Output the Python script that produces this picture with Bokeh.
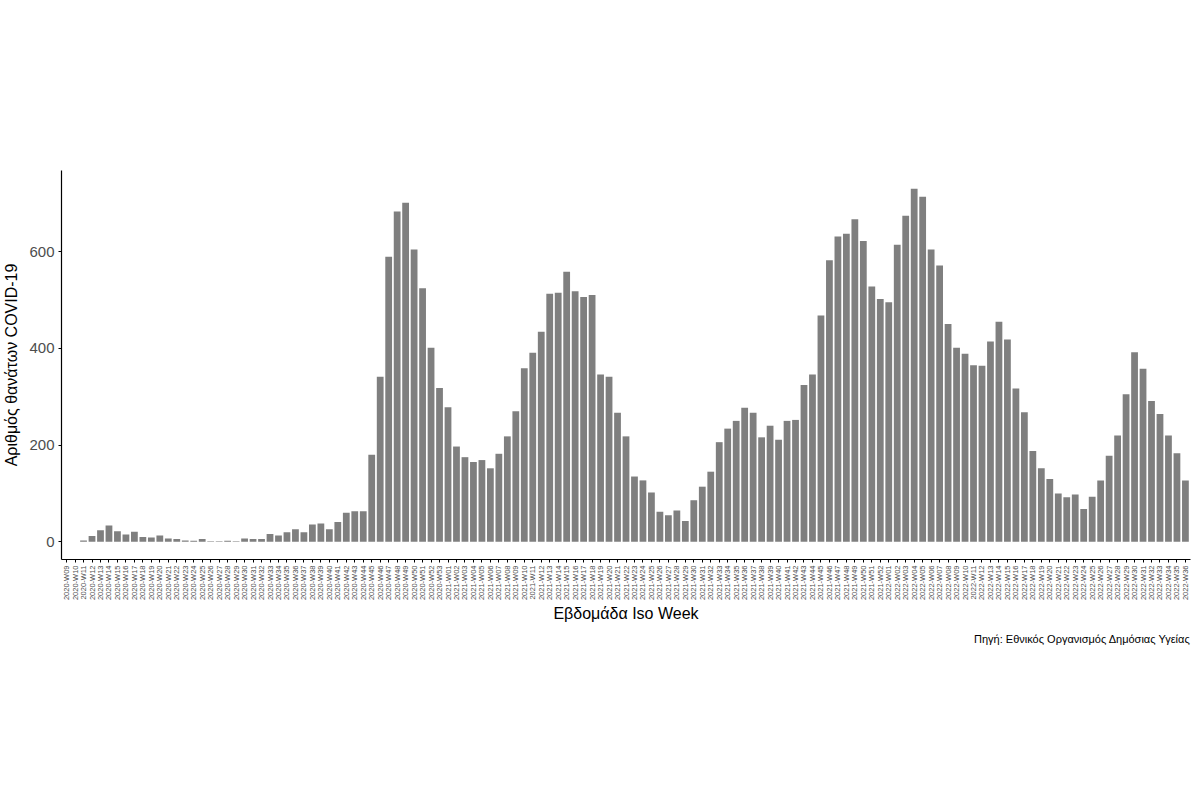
from bokeh.plotting import figure
from bokeh.models import Range1d, FixedTicker, Title, ColumnDataSource
from bokeh.embed import file_html
from bokeh.resources import INLINE
import math

weeks_2020 = [f"2020-W{w:02d}" for w in range(9, 54)]
weeks_2021 = [f"2021-W{w:02d}" for w in range(1, 53)]
weeks_2022 = [f"2022-W{w:02d}" for w in range(1, 37)]
week_labels = weeks_2020 + weeks_2021 + weeks_2022

deaths_2020 = [0, 0, 3, 12, 24, 34, 22, 15, 21, 10, 9, 13, 7, 6, 3, 2, 6, 1, 1, 2, 1,
               7, 6, 6, 16, 13, 20, 26, 20, 36, 38, 26, 41, 60, 63, 63,
               180, 341, 589, 683, 701, 604, 524, 401, 318]
deaths_2021 = [278, 197, 175, 165, 169, 152, 182, 218, 270, 359, 391, 434, 513, 515,
               558, 518, 506, 510, 346, 341, 267, 218, 135, 127, 102, 62, 55, 65, 43,
               86, 114, 145, 206, 234, 250, 277, 267, 216, 240, 211, 250, 252, 324,
               346, 468, 582, 631, 637, 667, 622, 528, 502]
deaths_2022 = [495, 614, 674, 730, 713, 604, 571, 450, 401, 389, 365, 364, 414, 455,
               418, 317, 268, 188, 152, 130, 100, 92, 98, 68, 93, 127, 178, 220, 305,
               392, 358, 291, 264, 220, 183, 127]
deaths = deaths_2020 + deaths_2021 + deaths_2022

y_ticks = [0, 200, 400, 600]

n = len(week_labels)
pos = list(range(1, n + 1))
src = ColumnDataSource(dict(x=pos, top=deaths, label=week_labels))

FONT = "Liberation Sans"

p = figure(width=1192, height=649, output_backend="svg", toolbar_location=None,
           x_range=Range1d(0.4, n + 0.6), y_range=Range1d(-36.5, 767.5))
p.min_border_top = 170
p.min_border_left = 55
p.min_border_right = 2
p.outline_line_color = None
p.background_fill_color = "white"
p.border_fill_color = "white"
p.grid.visible = False

p.vbar(x="x", top="top", bottom=0, width=0.8, source=src, fill_color="#7F7F7F", line_color=None)

xa = p.xaxis[0]
xa.ticker = FixedTicker(ticks=pos)
xa.major_label_overrides = {i: lab for i, lab in zip(pos, week_labels)}
xa.major_label_orientation = math.pi / 2
xa.major_label_text_font_size = "7.5px"
xa.major_label_text_color = "#4D4D4D"
xa.major_label_text_font = FONT
xa.major_label_standoff = 3
xa.minor_tick_line_color = None
xa.major_tick_out = 3
xa.major_tick_in = 0
xa.axis_line_color = "black"
xa.axis_line_width = 1.2
xa.major_tick_line_color = "black"
xa.axis_label = "Εβδομάδα Iso Week"
xa.axis_label_text_font = FONT
xa.axis_label_text_font_size = "16px"
xa.axis_label_text_font_style = "normal"
xa.axis_label_text_color = "black"
xa.axis_label_standoff = 2

ya = p.yaxis[0]
ya.ticker = FixedTicker(ticks=y_ticks)
ya.major_label_text_font_size = "15px"
ya.major_label_text_color = "#4D4D4D"
ya.major_label_text_font = FONT
ya.major_label_standoff = 4
ya.minor_tick_line_color = None
ya.major_tick_out = 3
ya.major_tick_in = 0
ya.axis_line_color = "black"
ya.axis_line_width = 1.2
ya.major_tick_line_color = "black"
ya.axis_label = "Αριθμός θανάτων COVID-19"
ya.axis_label_text_font = FONT
ya.axis_label_text_font_size = "16px"
ya.axis_label_text_font_style = "normal"
ya.axis_label_text_color = "black"
ya.axis_label_standoff = 6

cap = Title(text="Πηγή: Εθνικός Οργανισμός Δημόσιας Υγείας", align="right",
            text_font_size="11px", text_font_style="normal", text_font=FONT,
            text_color="black")
p.add_layout(cap, "below")

open("out.html", "w").write(file_html(p, INLINE))
